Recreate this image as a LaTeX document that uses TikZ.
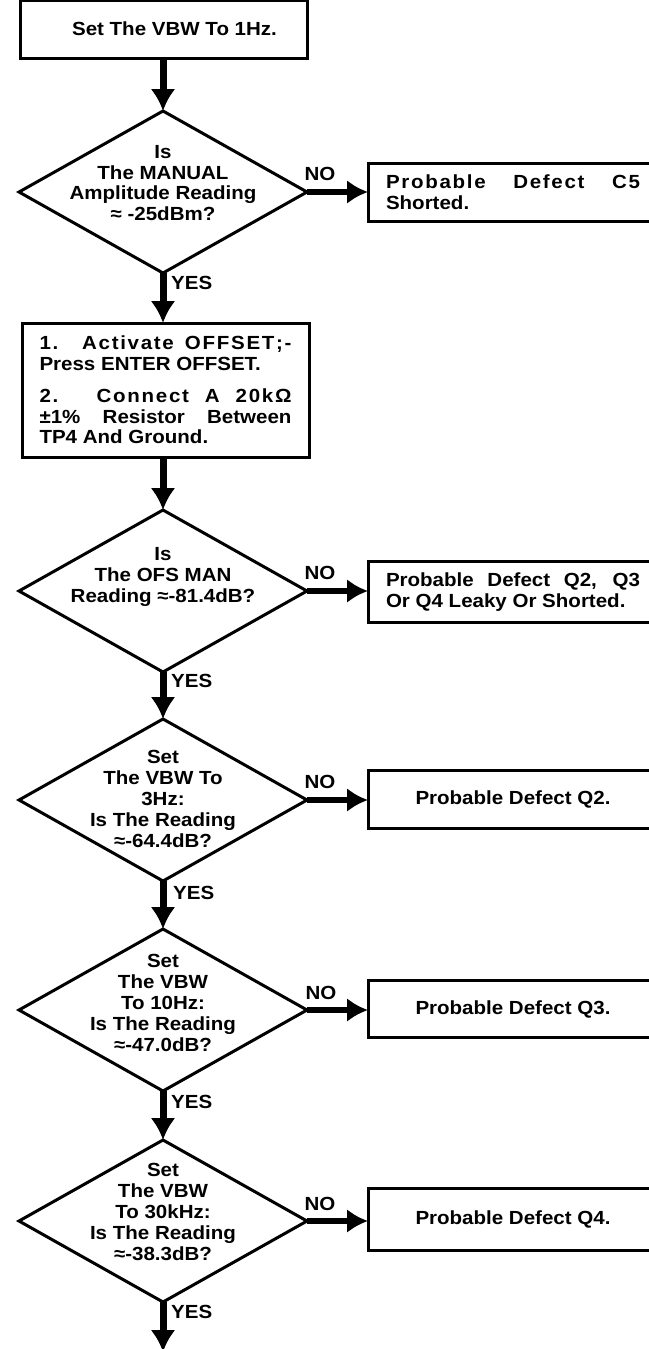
\documentclass[tikz,border=0pt]{standalone}
\usepackage{fontspec}
\setmainfont{Liberation Sans}[FakeStretch=1.08]
\usetikzlibrary{arrows.meta,shapes.geometric}
\makeatletter
\newcommand\lsw[1]{\@tfor\lsw@t:=#1\do{\lsw@t\kern1.7pt}\unkern}
\makeatother
\tikzset{
  every node/.style={font=\fontsize{19}{20.8}\selectfont\bfseries},
  box/.style={draw, line width=3pt, rectangle, inner sep=0pt, outer sep=0pt},
  dia/.style={draw, diamond, line width=3pt, minimum width=288pt, minimum height=162pt, inner sep=0pt, outer sep=0pt},
  dtxt/.style={align=center, inner sep=0pt},
  flow/.style={line width=7pt, -{Latex[length=22pt,width=25pt]}},
  side/.style={line width=6pt, -{Latex[length=21pt,width=24pt]}},
  lbl/.style={inner sep=0pt},
  sidebox/.style={box, minimum width=290pt, anchor=west, align=left, inner xsep=17pt},
}
\begin{document}
\begin{tikzpicture}[x=1pt,y=-1pt]
\useasboundingbox (0,0) rectangle (648,1349);

% main column
\node[box, minimum width=287pt, minimum height=58pt] (top) at (163.5,29) {\hspace*{22pt}Set The VBW To 1Hz.};

\node[dia] (d1) at (163,192) {};
\node[dtxt] (d1t) at (163,183) {Is\\The MANUAL\\Amplitude Reading\\≈ -25dBm?};

\node[box, minimum width=287pt, minimum height=134pt, align=left, inner xsep=17pt] (b2) at (165.5,390)
  {\makebox[252pt][s]{\lsw{1.} \lsw{Activate} \lsw{OFFSET;-}}\\
   Press ENTER OFFSET.\\[11pt]
   \makebox[252pt][s]{\lsw{2.} \lsw{Connect} \lsw{A} \lsw{20kΩ}}\\
   \makebox[252pt][s]{±1\% Resistor Between}\\
   TP4 And Ground.};

\node[dia] (d2) at (163,591) {};
\node[dtxt] (d2t) at (163,577) {Is\\The OFS MAN\\Reading ≈-81.4dB?};

\node[dia] (d3) at (163,800) {};
\node[dtxt] (d3t) at (163,799) {Set\\The VBW To\\3Hz:\\Is The Reading\\≈-64.4dB?};

\node[dia] (d4) at (163,1010) {};
\node[dtxt] (d4t) at (163,1003) {Set\\The VBW\\To 10Hz:\\Is The Reading\\≈-47.0dB?};

\node[dia] (d5) at (163,1221) {};
\node[dtxt] (d5t) at (163,1212) {Set\\The VBW\\To 30kHz:\\Is The Reading\\≈-38.3dB?};

\coordinate (end) at (163,1352);

% side boxes
\node[sidebox, minimum height=58pt, inner xsep=18pt] (n1) at (368,192)
  {\makebox[254pt][s]{\lsw{Probable} \lsw{Defect} \lsw{C5}}\\Shorted.};
\node[sidebox, minimum height=61pt, inner xsep=16pt] (n2) at (368,592)
  {\makebox[254pt][s]{Probable Defect Q2, Q3}\\Or Q4 Leaky Or Shorted.};
\node[box, minimum width=290pt, minimum height=58pt, anchor=west] (n3) at (368,799) {Probable Defect Q2.};
\node[box, minimum width=290pt, minimum height=57pt, anchor=west] (n4) at (368,1009) {Probable Defect Q3.};
\node[box, minimum width=290pt, minimum height=62pt, anchor=west] (n5) at (368,1219) {Probable Defect Q4.};

% vertical connectors
\draw[flow] (d1.north |- top.south) -- (d1.north);
\draw[flow] (d1.south) -- (d1.south |- b2.north);
\draw[flow] (d2.north |- b2.south) -- (d2.north);
\draw[flow] (d2.south) -- (d3.north);
\draw[flow] (d3.south) -- (d4.north);
\draw[flow] (d4.south) -- (d5.north);
\draw[flow] (d5.south) -- (end);

% side connectors
\draw[side] (d1.east) -- (d1.east -| n1.west);
\draw[side] (d2.east) -- (d2.east -| n2.west);
\draw[side] (d3.east) -- (d3.east -| n3.west);
\draw[side] (d4.east) -- (d4.east -| n4.west);
\draw[side] (d5.east) -- (d5.east -| n5.west);

% labels
\node[lbl] (no1) at (320,174) {NO};
\node[lbl] (no2) at (320,573) {NO};
\node[lbl] (no3) at (320,782) {NO};
\node[lbl] (no4) at (321,993) {NO};
\node[lbl] (no5) at (320,1204) {NO};
\node[lbl, anchor=west] (yes1) at (171,283) {YES};
\node[lbl, anchor=west] (yes2) at (171,681) {YES};
\node[lbl, anchor=west] (yes3) at (173,893) {YES};
\node[lbl, anchor=west] (yes4) at (171,1102) {YES};
\node[lbl, anchor=west] (yes5) at (171,1312) {YES};
\end{tikzpicture}
\end{document}
